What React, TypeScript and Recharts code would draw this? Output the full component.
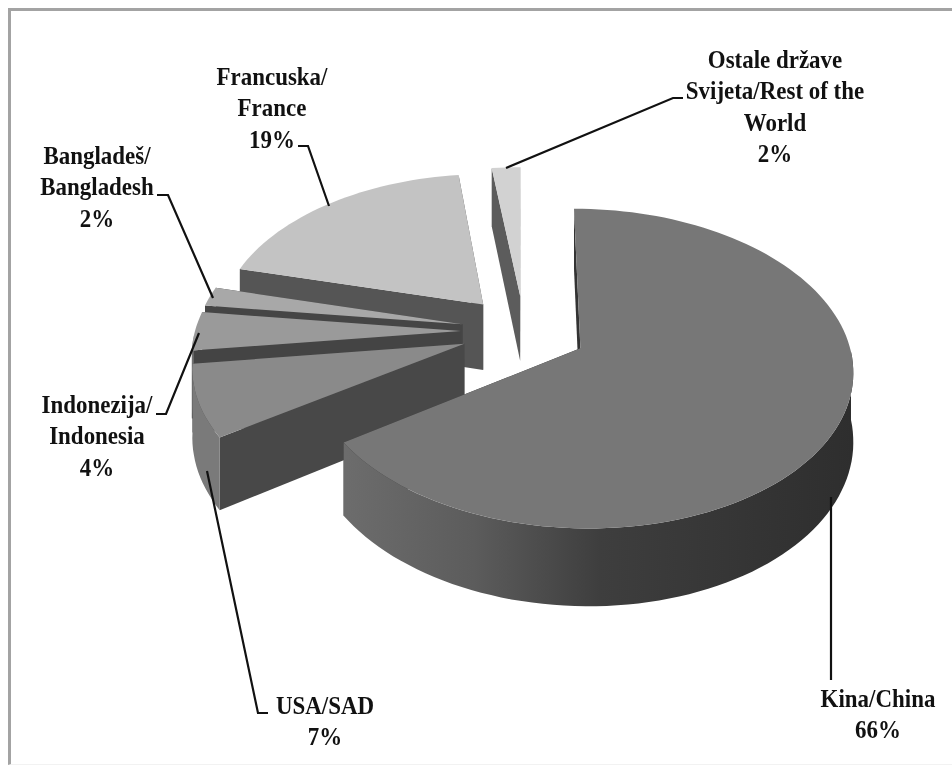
import React from 'react';
import { PieChart, Pie } from 'recharts';

const names = ['Ostale države', 'Francuska', 'Bangladeš', 'Indonezija', 'USA', 'Kina'];
// procjena sa slike, natpisi su zaokruženi
const shares = [2, 19, 2, 4, 7.4, 65.6];

const labelLines = [
    ['Ostale države', 'Svijeta/Rest of the', 'World', '2%'],
    ['Francuska/', 'France', '19%'],
    ['Bangladeš/', 'Bangladesh', '2%'],
    ['Indonezija/', 'Indonesia', '4%'],
    ['USA/SAD', '7%'],
    ['Kina/China', '66%'],
];

// boja gornje plohe, reza i vanjskog ruba
const topFills = ['#d2d2d2', '#c3c3c3', '#a8a8a8', '#9a9a9a', '#8a8a8a', '#777777'];
const cutFills = ['#5c5c5c', '#555555', '#454545', '#444444', '#484848', '#333333'];
const rimFills = ['#8a8a8a', '#707070', '#707070', '#707070', '#7a7a7a', 'url(#kinaRim)'];

// pozicija teksta: sredina x, prva baza y
const labelPos = [[775, 68], [272, 85], [97, 164], [97, 413], [325, 714], [878, 707]];
const leaders = [
    [[683, 98], [673, 98], [506, 168]],
    [[298, 146], [308, 146], [329, 206]],
    [[157, 195], [168, 195], [213, 298]],
    [[156, 414], [166, 414], [199, 333]],
    [[268, 713], [258, 713], [207, 471]],
    [[831, 680], [831, 497]],
];

const WIDTH = 952;
const HEIGHT = 769;
const CX = 524;
const CY = 331;
const RADIUS = 266;
const EXPLODE = 63;
const SQUASH = 0.575;
const PERSPECTIVE = 0.125;
const DEPTH = 67;
const LINE_HEIGHT = 31.5;

const rad = (deg: number) => (deg * Math.PI) / 180;

// ravnina kolača -> ekran, dalje od gledatelja je manje
function project(cx: number, cy: number, x: number, y: number, z: number) {
    const w = 1 + (PERSPECTIVE * y) / RADIUS;
    return [cx + x / w, cy - (SQUASH * y) / w + (z * DEPTH) / w];
}

const toPath = (pts: number[][]) =>
    'M' + pts.map(p => `${p[0].toFixed(1)},${p[1].toFixed(1)}`).join('L') + 'Z';

function renderSlice(props: any) {
    const { cx, cy, outerRadius, startAngle, endAngle, index } = props;
    const mid = rad((startAngle + endAngle) / 2);
    const ox = EXPLODE * Math.cos(mid);
    const oy = EXPLODE * Math.sin(mid);
    const i = index ?? names.indexOf(props.name);

    const arc: number[][] = [];
    const front: number[][] = [];
    const steps = Math.max(2, Math.ceil((endAngle - startAngle) / 2));
    for (let s = 0; s <= steps; s++) {
        const a = rad(startAngle + ((endAngle - startAngle) * s) / steps);
        const p = [ox + outerRadius * Math.cos(a), oy + outerRadius * Math.sin(a)];
        arc.push(p);
        // samo prednji dio ruba se vidi
        if (Math.sin(a) < 0) front.push(p);
    }
    const lift = (p: number[], z: number) => project(cx, cy, p[0], p[1], z);
    const apex = [ox, oy];
    const first = arc[0];
    const last = arc[arc.length - 1];

    return (
        <g>
            <path d={toPath([lift(apex, 0), lift(first, 0), lift(first, 1), lift(apex, 1)])} fill={cutFills[i]} />
            <path d={toPath([lift(apex, 0), lift(last, 0), lift(last, 1), lift(apex, 1)])} fill={cutFills[i]} />
            {front.length > 1 && (
                <path d={toPath([...front.map(p => lift(p, 0)), ...[...front].reverse().map(p => lift(p, 1))])} fill={rimFills[i]} />
            )}
            <path d={toPath([lift(apex, 0), ...arc.map(p => lift(p, 0))])} fill={topFills[i]} />
        </g>
    );
}

function renderLabel(props: any) {
    const i = props.index;
    return (
        <text
            textAnchor="middle"
            fontFamily="'Liberation Serif', serif"
            fontWeight="bold"
            fontSize={25.5}
            fill="#111111"
            transform={`translate(${labelPos[i][0]} 0) scale(0.9 1)`}
        >
            {labelLines[i].map((line, n) => (
                <tspan key={n} x={0} y={labelPos[i][1] + n * LINE_HEIGHT}>{line}</tspan>
            ))}
        </text>
    );
}

function renderLeader(props: any) {
    return (
        <polyline
            points={leaders[props.index].map(p => p.join(',')).join(' ')}
            fill="none"
            stroke="#111111"
            strokeWidth={2.2}
        />
    );
}

const slices = names.map((name, i) => ({ name, value: shares[i] }));

export default function App() {
    return (
        <div style={{ position: 'absolute', left: 0, top: 0, width: WIDTH, height: HEIGHT, background: '#fff' }}>
            <div style={{ position: 'absolute', left: 8, top: 8, right: 0, bottom: 4, borderLeft: '3px solid #a3a3a3', borderTop: '3px solid #a3a3a3', borderBottom: '1px solid #f2f2f2' }} />
            <div style={{ position: 'absolute', left: 0, top: 0, filter: 'blur(0.5px)' }}>
                <PieChart width={WIDTH} height={HEIGHT} margin={{ top: 0, right: 0, bottom: 0, left: 0 }}>
                    <defs>
                        <linearGradient id="kinaRim" gradientUnits="userSpaceOnUse" x1="347" y1="0" x2="853" y2="0">
                            <stop offset="0%" stopColor="#6c6c6c" />
                            <stop offset="25%" stopColor="#5c5c5c" />
                            <stop offset="50%" stopColor="#3e3e3e" />
                            <stop offset="75%" stopColor="#363636" />
                            <stop offset="100%" stopColor="#2e2e2e" />
                        </linearGradient>
                    </defs>
                    <Pie
                        data={slices}
                        dataKey="value"
                        nameKey="name"
                        cx={CX}
                        cy={CY}
                        innerRadius={0}
                        outerRadius={RADIUS}
                        startAngle={90}
                        endAngle={450}
                        stroke="none"
                        shape={renderSlice}
                        label={renderLabel}
                        labelLine={renderLeader}
                        isAnimationActive={false}
                    />
                </PieChart>
            </div>
        </div>
    );
}
